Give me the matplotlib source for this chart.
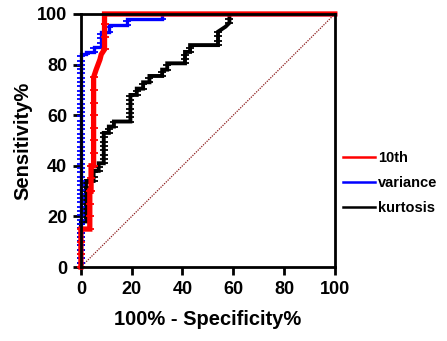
import numpy as np
import matplotlib
matplotlib.use("Agg")
import matplotlib.pyplot as plt
from matplotlib.lines import Line2D

plt.rcParams['font.family'] = ['Liberation Sans', 'DejaVu Sans']
plt.rcParams['font.weight'] = 'bold'

# ROC corner points (100% - specificity, sensitivity)
tenth_x = [0, 0, 3.5, 3.5, 4, 4, 5, 5, 6, 7.5, 8, 9.3, 9.3, 100]
tenth_y = [0, 15, 15, 30, 30, 40, 40, 75, 78, 82, 84, 86, 100, 100]

var_x = [0, 0, 2, 2, 5, 5, 8, 8, 11, 11, 18, 18, 32, 32, 100]
var_y = [0, 84, 84, 85, 85, 87, 87, 93, 93, 95.7, 95.7, 98, 98, 100, 100]

kurt_x = [0, 0, 2, 2, 5, 5, 7, 7, 9, 9, 11, 11, 13, 13, 19.5, 19.5,
          22, 22, 24.5, 24.5, 27, 27, 32, 32, 34, 34, 41, 41, 43, 43,
          54, 54, 57, 58.5, 58.5, 100]
kurt_y = [0, 18, 18, 34, 34, 38, 38, 41, 41, 53, 53, 55.5, 55.5, 57.5, 57.5, 68,
          68, 70.5, 70.5, 73, 73, 75.5, 75.5, 78, 78, 80.5, 80.5, 85, 85, 87.7,
          87.7, 93, 95, 96.5, 100, 100]

labels = ['10th', 'variance', 'kurtosis']
colors = ['#ff0000', '#0000ff', '#000000']


def tick_points(xs, ys, step):
    # points where the curve gets its little tick marks (vertical runs)
    px, py = [], []
    for i in range(len(xs) - 1):
        if xs[i] == xs[i + 1] and ys[i + 1] > ys[i]:
            for v in np.arange(ys[i], ys[i + 1] + 0.01, step):
                px.append(xs[i])
                py.append(v)
    return px, py


fig = plt.figure(figsize=(4.47, 3.41), dpi=100)
ax = fig.add_axes([0.181, 0.217, 0.568, 0.742])

# chance line
ax.plot([0, 100], [0, 100], ls=(0, (1, 1)), color='#8b1a1a', lw=0.9)

curves = [(kurt_x, kurt_y, 2.8, 1.7), (var_x, var_y, 2.4, 1.7),
          (tenth_x, tenth_y, 3.8, 5.0)]
cols = [colors[2], colors[1], colors[0]]
for (xs, ys, lw, step), c in zip(curves, cols):
    ax.plot(xs, ys, color=c, lw=lw, clip_on=False, solid_joinstyle='miter')
    tx, ty = tick_points(xs, ys, step)
    ax.plot(tx, ty, ls='none', marker='_', ms=6, mew=1.3, color=c,
            clip_on=False)

ax.set_xlim(0, 100)
ax.set_ylim(0, 100)
ax.set_xticks(range(0, 101, 20))
ax.set_yticks(range(0, 101, 20))
for s in ax.spines.values():
    s.set_linewidth(2)
ax.tick_params(width=2, length=6, labelsize=13, pad=4)
for t in ax.get_xticklabels() + ax.get_yticklabels():
    t.set_fontweight('bold')

ax.set_xlabel('100% - Specificity%', fontsize=14.5, fontweight='bold',
              labelpad=9)
ax.set_ylabel('Sensitivity%', fontsize=14.5, fontweight='bold', labelpad=3)

handles = [Line2D([], [], color=c, lw=1.8) for c in colors]
fig.legend(handles, labels, loc='upper left', bbox_to_anchor=(0.755, 0.575),
           frameon=False, handlelength=2.2, handletextpad=0.2,
           labelspacing=0.75, borderaxespad=0,
           prop={'weight': 'bold', 'size': 10.5})

fig.savefig('out.png', dpi=100)
